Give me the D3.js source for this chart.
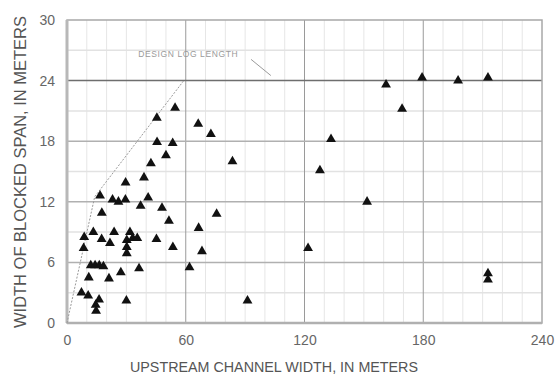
<!DOCTYPE html>
<html>
<head>
<meta charset="utf-8">
<script src="https://cdn.jsdelivr.net/npm/d3@7"></script>
<style>
  html, body { margin: 0; padding: 0; background: #fff; }
  svg { display: block; font-family: "Liberation Sans", Arial, sans-serif; }
</style>
</head>
<body>
<svg id="chart" width="558" height="376"></svg>
<script>
// ---- data ----
const channelWidth = [
  54.6, 45.4, 66.3, 72.7, 45.5, 53.4, 50.0, 42.4, 83.6, 38.9, 29.6,
  16.7, 23.0, 26.0, 29.5, 41.0, 37.2, 48.0, 17.6, 51.5, 75.6, 66.5,
  13.3, 23.8, 31.8, 8.7, 17.5, 21.7, 30.2, 33.2, 35.5, 45.2, 53.5, 68.2,
  8.4, 30.2, 30.2,
  12.0, 14.2, 16.3, 18.4, 36.4, 61.9, 27.2, 11.0, 21.2,
  91.2, 30.0, 7.3, 10.7, 16.2, 14.5, 14.7,
  161.2, 179.4, 197.6, 212.7, 169.3, 133.4, 127.8, 151.6, 121.8, 212.7, 212.7
];
const blockedSpan = [
  21.3, 20.3, 19.7, 18.7, 17.9, 17.8, 16.6, 15.8, 16.0, 14.4, 13.9,
  12.6, 12.2, 12.0, 12.2, 12.4, 11.6, 11.4, 10.9, 10.1, 10.8, 9.4,
  9.0, 9.0, 9.0, 8.5, 8.3, 7.9, 8.2, 8.4, 8.4, 8.3, 7.5, 7.1,
  7.4, 7.5, 6.9,
  5.7, 5.7, 5.7, 5.6, 5.4, 5.5, 5.0, 4.5, 4.4,
  2.2, 2.2, 3.0, 2.7, 2.3, 1.8, 1.2,
  23.6, 24.3, 24.0, 24.3, 21.2, 18.2, 15.1, 12.0, 7.4, 4.9, 4.3
];
const xTicks = [0, 60, 120, 180, 240];
const yTicks = [0, 6, 12, 18, 24, 30];
const envelopeX = [0, 14, 59];
const envelopeY = [0, 12.5, 24];
const envelopeLabel = "DESIGN LOG LENGTH";
const xTitle = "UPSTREAM CHANNEL WIDTH, IN METERS";
const yTitle = "WIDTH OF BLOCKED SPAN, IN METERS";

// ---- layout ----
const svg = d3.select("#chart");
const m = { left: 67, top: 20, right: 16, bottom: 53 };
const W = 558 - m.left - m.right;
const H = 376 - m.top - m.bottom;
const x = d3.scaleLinear().domain([0, 240]).range([0, W]);
const y = d3.scaleLinear().domain([0, 30]).range([H, 0]);
const g = svg.append("g").attr("transform", `translate(${m.left},${m.top})`);

// minor grid
g.append("g").selectAll("line").data(d3.range(0, 241, 10).filter(v => v % 60 !== 0))
  .join("line").attr("x1", d => x(d)).attr("x2", d => x(d)).attr("y1", 0).attr("y2", H)
  .attr("stroke", "#e6e6e6").attr("stroke-width", 1);
g.append("g").selectAll("line").data(d3.range(3, 30, 6))
  .join("line").attr("y1", d => y(d)).attr("y2", d => y(d)).attr("x1", 0).attr("x2", W)
  .attr("stroke", "#e2e2e2").attr("stroke-width", 1.5);

// major grid
g.append("g").selectAll("line").data([60, 120, 180])
  .join("line").attr("x1", d => x(d)).attr("x2", d => x(d)).attr("y1", 0).attr("y2", H)
  .attr("stroke", "#9a9a9a").attr("stroke-width", 1);
g.append("g").selectAll("line").data([6, 12, 18])
  .join("line").attr("y1", d => y(d)).attr("y2", d => y(d)).attr("x1", 0).attr("x2", W)
  .attr("stroke", "#b0b0b0").attr("stroke-width", 1.5);

// design line at 24 m
g.append("line").attr("x1", 0).attr("x2", W).attr("y1", y(24)).attr("y2", y(24))
  .attr("stroke", "#6e6e6e").attr("stroke-width", 1.5);

// frame
g.append("rect").attr("x", 0).attr("y", 0).attr("width", W).attr("height", H)
  .attr("fill", "none").attr("stroke", "#a8a8a8").attr("stroke-width", 1.5);
g.append("line").attr("x1", 0).attr("x2", 0).attr("y1", 0).attr("y2", H)
  .attr("stroke", "#b8b8b8").attr("stroke-width", 3);
g.append("line").attr("x1", 0).attr("x2", W).attr("y1", H).attr("y2", H)
  .attr("stroke", "#b0b0b0").attr("stroke-width", 2.5);

// envelope sloped line (dotted)
const env = envelopeX.map((d, i) => [d, envelopeY[i]]);
g.append("path").datum(env)
  .attr("d", d3.line().x(d => x(d[0])).y(d => y(d[1])))
  .attr("fill", "none").attr("stroke", "#9a9a9a").attr("stroke-width", 1)
  .attr("stroke-dasharray", "2,1.5");

// label + leader
g.append("text").attr("x", x(36)).attr("y", y(26.3))
  .attr("font-size", 8.5).attr("fill", "#9a9a9a").attr("letter-spacing", 0.6)
  .text(envelopeLabel);
g.append("line").attr("x1", x(93)).attr("y1", y(26.1)).attr("x2", x(103)).attr("y2", y(24.5))
  .attr("stroke", "#9a9a9a").attr("stroke-width", 1);

// axes labels
const xAxis = d3.axisBottom(x).tickValues(xTicks).tickSize(0).tickPadding(12);
const gx = g.append("g").attr("transform", `translate(0,${H})`).call(xAxis);
gx.select(".domain").remove();
gx.selectAll("text").attr("font-size", 14).attr("fill", "#666")
  .attr("font-family", "'Liberation Sans', Arial, sans-serif");

const yAxis = d3.axisLeft(y).tickValues(yTicks).tickSize(0).tickPadding(12);
const gy = g.append("g").call(yAxis);
gy.select(".domain").remove();
gy.selectAll("text").attr("font-size", 14).attr("fill", "#666")
  .attr("font-family", "'Liberation Sans Narrow', 'Liberation Sans', Arial, sans-serif");

// titles
svg.append("text").attr("x", 274).attr("y", 372)
  .attr("text-anchor", "middle").attr("font-size", 14.5).attr("fill", "#555")
  .attr("textLength", 288).attr("lengthAdjust", "spacingAndGlyphs")
  .text(xTitle);
svg.append("text").attr("transform", `translate(26,172) rotate(-90)`)
  .attr("text-anchor", "middle").attr("font-size", 16).attr("fill", "#555")
  .attr("textLength", 312).attr("lengthAdjust", "spacingAndGlyphs")
  .text(yTitle);

// points
const pts = channelWidth.map((d, i) => ({ cx: d, cy: blockedSpan[i] }));
g.append("g").selectAll("path").data(pts).join("path")
  .attr("d", d3.symbol().type(d3.symbolTriangle).size(42))
  .attr("transform", d => `translate(${x(d.cx)},${y(d.cy)})`)
  .attr("fill", "#111");
</script>
</body>
</html>
